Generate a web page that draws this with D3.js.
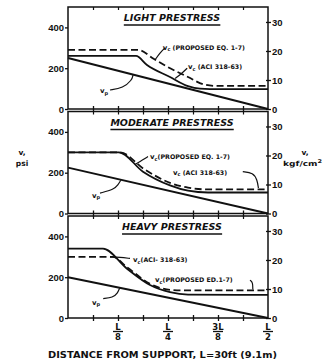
<!DOCTYPE html>
<html><head><meta charset="utf-8">
<script src="https://cdn.jsdelivr.net/npm/d3@7"></script>
<style>
body{margin:0;background:#fff}
svg{display:block;font-family:"DejaVu Sans",sans-serif;}
</style></head><body><div id="chart"></div>
<script>
// panel titles and axis ticks
const titles = ["LIGHT PRESTRESS", "MODERATE PRESTRESS", "HEAVY PRESTRESS"];
const psiTicks = [0, 200, 400];
const kgTicks = [0, 10, 20, 30];
const spanTickValues = [1/8, 1/4, 3/8, 1/2];
const spanTickNum = ["L", "L", "3L", "L"];
const spanTickDen = ["8", "4", "8", "2"];
const psiPerKg = 14.22;

// curves: [distance as fraction of span, shear in psi]
const lightDashed = [[0,290],[0.175,290],[0.215,245],[0.25,205],[0.3,157],[0.34,120],[0.37,113],[0.5,113]];
const lightSolid  = [[0,260],[0.17,260],[0.1975,216],[0.255,157],[0.3,112],[0.33,100],[0.38,97],[0.5,97]];
const lightVp     = [[0,250],[0.5,0]];

const modDashed = [[0,300],[0.13,300],[0.19,218],[0.255,150],[0.3,127],[0.35,118],[0.5,118]];
const modSolid  = [[0,300],[0.127,300],[0.1875,205],[0.255,138],[0.3,112],[0.35,103],[0.5,103]];
const modVp     = [[0,225],[0.5,0]];

const heavyDashed = [[0,300],[0.112,300],[0.147,250],[0.205,168],[0.255,138],[0.3,135],[0.5,135]];
const heavySolid  = [[0,340],[0.0875,340],[0.1467,243],[0.205,162],[0.255,127],[0.3,115],[0.5,113]];
const heavyVp     = [[0,200],[0.5,0]];

const panelSeries = [
  {dashed: lightDashed, solid: lightSolid, vp: lightVp},
  {dashed: modDashed, solid: modSolid, vp: modVp},
  {dashed: heavyDashed, solid: heavySolid, vp: heavyVp}
];

// label text per panel (v_c written with subscript)
const panelNotes = [
  [{sub: "c", text: " (PROPOSED EQ. 1-7)", at: [0.237, 290], leader: [[0.2425,300],[0.23,275],[0.218,242]]},
   {sub: "c", text: " (ACI 318-63)", at: [0.3, 196], leader: [[0.298,200],[0.285,175],[0.268,150]]},
   {sub: "p", text: "", at: [0.08, 78], leader: [[0.105,93],[0.1375,103],[0.16,142],[0.1625,167]]}],
  [{sub: "c", text: "(PROPOSED EQ. 1-7)", at: [0.205, 265], leader: [[0.2,279],[0.18,255],[0.1675,240]]},
   {sub: "c", text: " (ACI 318-63)", at: [0.2625, 191], leader: [[0.437,205],[0.463,200],[0.473,165],[0.476,125]]},
   {sub: "p", text: "", at: [0.06, 78], leader: [[0.08,100],[0.115,118],[0.125,140],[0.132,163]]}],
  [{sub: "c", text: "(ACI- 318-63)", at: [0.1625, 274], leader: [[0.105,300],[0.13,298],[0.155,292]]},
   {sub: "c", text: "(PROPOSED ED.1-7)", at: [0.2175, 176], leader: [[0.455,185],[0.462,175],[0.462,140]]},
   {sub: "p", text: "", at: [0.06, 64], leader: [[0.088,95],[0.112,100],[0.124,122],[0.129,146]]}]
];

const W = 325, H = 364;
const left = 68, right = 268, panelH = 102;
const tops = [7, 111.5, 216];
const ink = "#111";

const svg = d3.select("#chart").append("svg").attr("width", W).attr("height", H);
const x = d3.scaleLinear().domain([0, 0.5]).range([left, right]);

tops.forEach((top, i) => {
  const y = d3.scaleLinear().domain([0, 500]).range([top + panelH, top]);
  const yk = d3.scaleLinear().domain([0, 500 / psiPerKg]).range([top + panelH, top]);
  const g = svg.append("g");

  g.append("rect")
    .attr("x", left).attr("y", top)
    .attr("width", right - left).attr("height", panelH)
    .attr("fill", "none").attr("stroke", ink).attr("stroke-width", 1.5);

  // left psi axis
  const ya = g.append("g").attr("transform", `translate(${left},0)`)
    .call(d3.axisLeft(y).tickValues(psiTicks).tickSize(3).tickPadding(1));
  ya.select(".domain").remove();
  ya.selectAll("line").attr("stroke", ink).attr("stroke-width", 1.3);
  ya.selectAll("text").attr("font-size", 9.5).attr("font-weight", "bold").attr("fill", ink);

  // right kg/cm2 axis
  const yr = g.append("g").attr("transform", `translate(${right},0)`)
    .call(d3.axisRight(yk).tickValues(kgTicks).tickSize(3).tickPadding(1));
  yr.select(".domain").remove();
  yr.selectAll("line").attr("stroke", ink).attr("stroke-width", 1.3).attr("x1", -2);
  yr.selectAll("text").attr("font-size", 9.5).attr("font-weight", "bold").attr("fill", ink);

  // small ticks along bottom and top
  const sixteenths = d3.range(1, 8).map(d => d / 16);
  const xb = g.append("g").attr("transform", `translate(0,${top + panelH})`)
    .call(d3.axisBottom(x).tickValues(sixteenths).tickSize(3).tickFormat(""));
  xb.select(".domain").remove();
  xb.selectAll("line").attr("y1", -3).attr("stroke", ink).attr("stroke-width", 1.3);
  const xt = g.append("g").attr("transform", `translate(0,${top})`)
    .call(d3.axisBottom(x).tickValues(sixteenths).tickSize(3).tickFormat(""));
  xt.select(".domain").remove();
  xt.selectAll("line").attr("stroke", ink).attr("stroke-width", 1.2);

  // title
  const t = g.append("text")
    .attr("x", (left + right) / 2 + 4).attr("y", top + 14)
    .attr("text-anchor", "middle")
    .attr("font-size", 9.5).attr("font-weight", "bold").attr("font-style", "italic")
    .attr("fill", ink).text(titles[i]);
  const bb = t.node().getBBox();
  g.append("line")
    .attr("x1", bb.x).attr("x2", bb.x + bb.width)
    .attr("y1", top + 18).attr("y2", top + 18)
    .attr("stroke", ink).attr("stroke-width", 1.3);

  const line = d3.line().x(d => x(d[0])).y(d => y(d[1])).curve(d3.curveMonotoneX);
  const s = panelSeries[i];
  g.append("path").datum(s.vp).attr("d", line)
    .attr("fill", "none").attr("stroke", ink).attr("stroke-width", 2);
  g.append("path").datum(s.solid).attr("d", line)
    .attr("fill", "none").attr("stroke", ink).attr("stroke-width", 1.8);
  g.append("path").datum(s.dashed).attr("d", line)
    .attr("fill", "none").attr("stroke", ink).attr("stroke-width", 1.8)
    .attr("stroke-dasharray", "7,3.5");

  // labels with leaders
  const leader = d3.line().x(d => x(d[0])).y(d => y(d[1])).curve(d3.curveBasis);
  panelNotes[i].forEach(n => {
    g.append("path").datum(n.leader).attr("d", leader)
      .attr("fill", "none").attr("stroke", ink).attr("stroke-width", 1.2);
    const tx = g.append("text")
      .attr("x", x(n.at[0])).attr("y", y(n.at[1]))
      .attr("font-size", 6.3).attr("font-weight", "bold").attr("fill", ink);
    tx.append("tspan").attr("font-size", 7).text("v");
    tx.append("tspan").attr("dy", 1.5).attr("font-size", 5).text(n.sub);
    tx.append("tspan").attr("dy", -1.5).text(n.text);
  });
});

// bottom span fractions
const yBase = tops[2] + panelH;
spanTickValues.forEach((v, i) => {
  const cx = x(v);
  svg.append("text").attr("x", cx).attr("y", yBase + 12)
    .attr("text-anchor", "middle").attr("font-size", 8.5).attr("font-weight", "bold")
    .attr("fill", ink).text(spanTickNum[i]);
  svg.append("line").attr("x1", cx - 5).attr("x2", cx + 5)
    .attr("y1", yBase + 13.5).attr("y2", yBase + 13.5)
    .attr("stroke", ink).attr("stroke-width", 1.3);
  svg.append("text").attr("x", cx).attr("y", yBase + 22)
    .attr("text-anchor", "middle").attr("font-size", 8.5).attr("font-weight", "bold")
    .attr("fill", ink).text(spanTickDen[i]);
});

svg.append("text").attr("x", 48).attr("y", 358)
  .attr("textLength", 229).attr("lengthAdjust", "spacingAndGlyphs")
  .attr("font-size", 9).attr("font-weight", "bold").attr("fill", ink)
  .text("DISTANCE FROM SUPPORT, L=30ft (9.1m)");

// side unit labels
svg.append("text").attr("x", 22).attr("y", 155).attr("text-anchor", "middle")
  .attr("font-size", 7.5).attr("font-weight", "bold").attr("fill", ink).text("v,");
svg.append("text").attr("x", 22).attr("y", 166).attr("text-anchor", "middle")
  .attr("font-size", 7.5).attr("font-weight", "bold").attr("fill", ink).text("psi");
svg.append("text").attr("x", 305).attr("y", 155).attr("text-anchor", "middle")
  .attr("font-size", 7.5).attr("font-weight", "bold").attr("fill", ink).text("v,");
const kg = svg.append("text").attr("x", 283).attr("y", 166)
  .attr("textLength", 39).attr("lengthAdjust", "spacingAndGlyphs")
  .attr("font-size", 7).attr("font-weight", "bold").attr("fill", ink);
kg.append("tspan").text("kgf/cm");
kg.append("tspan").attr("dy", -3).attr("font-size", 5).text("2");
</script></body></html>
